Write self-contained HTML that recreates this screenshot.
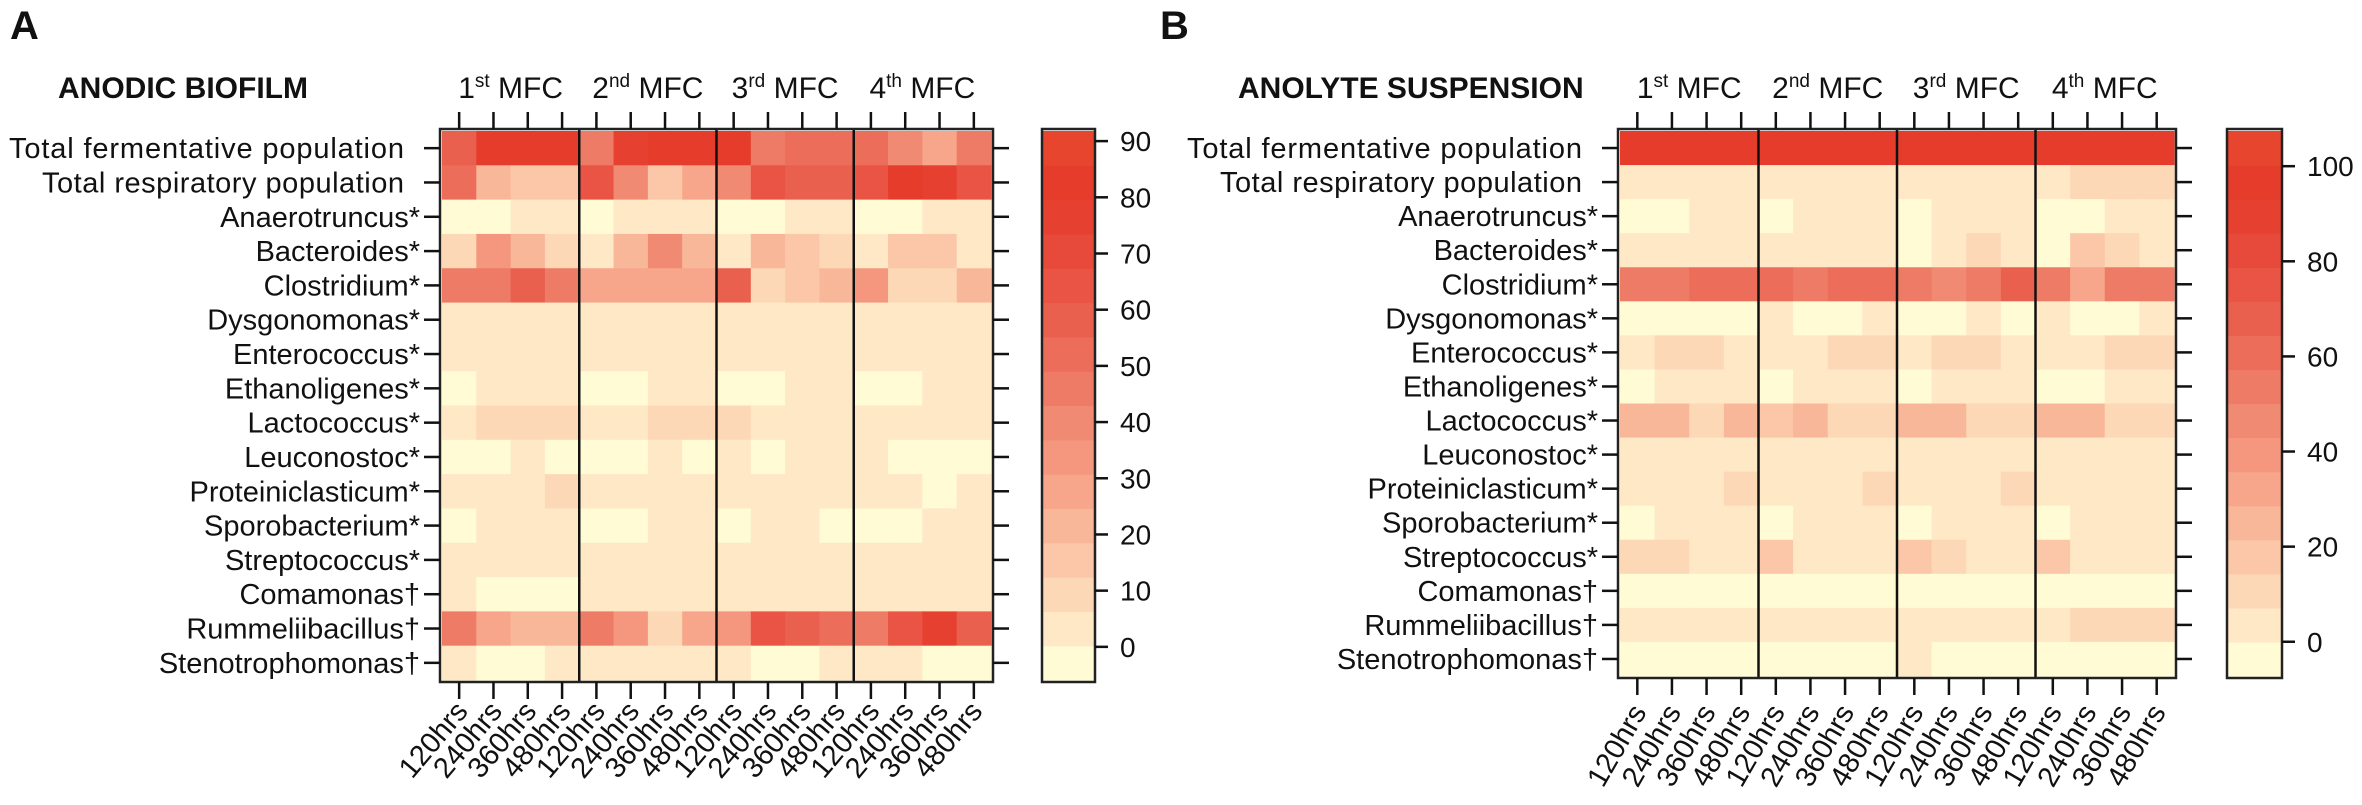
<!DOCTYPE html>
<html><head><meta charset="utf-8"><style>
html,body{margin:0;padding:0;background:#fff;}
svg{display:block;font-family:"Liberation Sans",Arial,sans-serif;}
</style></head><body>
<svg id="fig" width="2362" height="805" viewBox="0 0 2362 805" xmlns="http://www.w3.org/2000/svg"></svg>
<script>
const taxa = ["Total fermentative population","Total respiratory population","Anaerotruncus*","Bacteroides*","Clostridium*","Dysgonomonas*","Enterococcus*","Ethanoligenes*","Lactococcus*","Leuconostoc*","Proteiniclasticum*","Sporobacterium*","Streptococcus*","Comamonas†","Rummeliibacillus†","Stenotrophomonas†"];
const timepoints = ["120hrs","240hrs","360hrs","480hrs"];
const reactors = ["1","2","3","4"];
const reactorSup = ["st","nd","rd","th"];
const palette = ["#FFFBD4","#FEE8C6","#FDD8B6","#FBC7A8","#F9B79A","#F7A68B","#F4977E","#F18A73","#EE7B66","#EC6E5A","#EA604E","#E95445","#E7493A","#E64030","#E63C2C","#E7452E"];
// Anodic biofilm values (%)
const biofilmValues = [
 [58,82,82,82, 46,76,82,82, 82,46,52,52, 52,37,30,46],
 [52,21,15,15, 64,40,15,27, 40,64,58,58, 64,82,76,64],
 [-2,-2,3,3, -2,3,3,3, -2,-2,3,3, -2,-2,3,3],
 [9,33,21,9, 3,21,40,21, 3,21,15,9, 3,15,15,3],
 [46,46,58,46, 27,27,27,27, 58,9,15,21, 33,9,9,21],
 [3,3,3,3, 3,3,3,3, 3,3,3,3, 3,3,3,3],
 [3,3,3,3, 3,3,3,3, 3,3,3,3, 3,3,3,3],
 [-2,3,3,3, -2,-2,3,3, -2,-2,3,3, -2,-2,3,3],
 [3,9,9,9, 3,3,9,9, 9,3,3,3, 3,3,3,3],
 [-2,-2,3,-2, -2,-2,3,-2, 3,-2,3,3, 3,-2,-2,-2],
 [3,3,3,9, 3,3,3,3, 3,3,3,3, 3,3,-2,3],
 [-2,3,3,3, -2,-2,3,3, -2,3,3,-2, -2,-2,3,3],
 [3,3,3,3, 3,3,3,3, 3,3,3,3, 3,3,3,3],
 [3,-2,-2,-2, 3,3,3,3, 3,3,3,3, 3,3,3,3],
 [46,27,21,21, 46,33,9,27, 33,64,58,52, 46,64,76,58],
 [3,-2,-2,3, 3,3,3,3, 3,-2,-2,3, 3,3,-2,-2]
];
// Anolyte suspension values (%)
const suspensionValues = [
 [96,96,96,96, 96,96,96,96, 96,96,96,96, 96,96,96,96],
 [3,3,3,3, 3,3,3,3, 3,3,3,3, 3,10,10,10],
 [-2,-2,3,3, -2,3,3,3, -2,3,3,3, -2,-2,3,3],
 [3,3,3,3, 3,3,3,3, -2,3,10,3, -2,18,10,3],
 [53,53,60,60, 60,53,60,60, 53,46,53,68, 53,32,53,53],
 [-2,-2,-2,-2, 3,-2,-2,3, -2,-2,3,-2, 3,-2,-2,3],
 [3,10,10,3, 3,3,10,10, 3,10,10,3, 3,3,10,10],
 [-2,3,3,3, -2,3,3,3, -2,3,3,3, -2,-2,3,3],
 [25,25,10,25, 18,25,10,10, 25,25,10,10, 25,25,10,10],
 [3,3,3,3, 3,3,3,3, 3,3,3,3, 3,3,3,3],
 [3,3,3,10, 3,3,3,10, 3,3,3,10, 3,3,3,3],
 [-2,3,3,3, -2,3,3,3, -2,3,3,3, -2,3,3,3],
 [10,10,3,3, 18,3,3,3, 18,10,3,3, 18,3,3,3],
 [-2,-2,-2,-2, -2,-2,-2,-2, -2,-2,-2,-2, -2,-2,-2,-2],
 [3,3,3,3, 3,3,3,3, 3,3,3,3, 3,10,10,10],
 [-2,-2,-2,-2, -2,-2,-2,-2, 3,-2,-2,-2, -2,-2,-2,-2]
];
const biofilmTicks = [0,10,20,30,40,50,60,70,80,90];
const suspensionTicks = [0,20,40,60,80,100];

const NS = "http://www.w3.org/2000/svg";
const svg = document.getElementById("fig");
function mk(tag, attrs, parent){
  const e = document.createElementNS(NS, tag);
  for (const k in attrs) e.setAttribute(k, attrs[k]);
  (parent||svg).appendChild(e);
  return e;
}

function panel(cfg){
  const g = mk("g", {});
  
  
  const nR = taxa.length, nC = reactors.length*timepoints.length;
  const cw = (cfg.x1-cfg.x0)/nC, rh = (cfg.y1-cfg.y0)/nR;
  const xC = c => cfg.x0 + c*cw;
  const yR = r => cfg.y0 + r*rh;
  const bw = (cfg.vmax-cfg.vmin)/palette.length;
  const colorOf = v => palette[Math.max(0,Math.min(palette.length-1,Math.floor((v-cfg.vmin)/bw)))];
  const L = mk("text",{x:cfg.letterX,y:39,"font-size":40,"font-weight":"bold",fill:"#111"},g);
  L.textContent = cfg.letter;
  
  
  const T = mk("text",{x:cfg.titleX,y:98,"font-size":30,"font-weight":"bold",fill:"#111"},g);
  T.textContent = cfg.title;
  
  
  for (let r=0;r<nR;r++) for (let c=0;c<nC;c++){
    const rc = mk("rect",{x:xC(c),y:yR(r),width:cw+0.6,height:rh+0.6,fill:colorOf(cfg.values[r][c])},g);
    
    
  }
  for (let k=1;k<reactors.length;k++){
    const x = xC(k*timepoints.length);
    const ln = mk("line",{x1:x,x2:x,y1:cfg.y0-2,y2:cfg.y1+2,stroke:"#111","stroke-width":2.5},g);
    
    
  }
  const fr = mk("rect",{x:cfg.x0-2,y:cfg.y0-2,width:cfg.x1-cfg.x0+4,height:cfg.y1-cfg.y0+4,fill:"none",stroke:"#222","stroke-width":2.5},g);
  
  
  for (let r=0;r<nR;r++){
    const y = yR(r)+rh/2;
    mk("line",{x1:cfg.x0-18,x2:cfg.x0-2,y1:y,y2:y,stroke:"#111","stroke-width":2.5},g);
    mk("line",{x1:cfg.x1+2,x2:cfg.x1+18,y1:y,y2:y,stroke:"#111","stroke-width":2.5},g);
    const attrs = {x:cfg.x0-22,y:y+10,"font-size":29,"text-anchor":"end",fill:"#111"};
    if (r<2){ attrs.x = cfg.x0-38; }
    const t = mk("text",attrs,g);
    if (r<2){ t.setAttribute("textLength", r==0?395:362); t.setAttribute("lengthAdjust","spacing"); }
    t.textContent = taxa[r];
    
    
  }
  for (let c=0;c<nC;c++){
    const x = xC(c)+cw/2;
    mk("line",{x1:x,x2:x,y1:cfg.y0-19,y2:cfg.y0-2,stroke:"#111","stroke-width":2.5},g);
    mk("line",{x1:x,x2:x,y1:cfg.y1+2,y2:cfg.y1+19,stroke:"#111","stroke-width":2.5},g);
    const lx = x+10, ly = 712;
    const t = mk("text",{x:lx,y:ly,"font-size":29,"text-anchor":"end",fill:"#111",transform:`rotate(${cfg.rot} ${lx} ${ly})`},g);
    t.textContent = timepoints[c%timepoints.length];
    
    
  }
  for (let k=0;k<reactors.length;k++){
    const cx = xC(k*timepoints.length + timepoints.length/2);
    const t = mk("text",{x:cx,y:98,"font-size":30,"text-anchor":"middle",fill:"#111"},g);
    const a = mk("tspan",{},t); a.textContent = reactors[k];
    const s = mk("tspan",{"font-size":19,dy:-11},t); s.textContent = reactorSup[k];
    const b = mk("tspan",{dy:11},t); b.textContent = " MFC";
    
    
  }
  const cb = mk("g",{},g);
  
  
  const segH = (cfg.y1-cfg.y0)/palette.length;
  for (let i=0;i<palette.length;i++){
    mk("rect",{x:cfg.cbX0,y:cfg.y1-(i+1)*segH,width:cfg.cbX1-cfg.cbX0,height:segH+0.6,fill:palette[i]},cb);
  }
  mk("rect",{x:cfg.cbX0-1,y:cfg.y0-2,width:cfg.cbX1-cfg.cbX0+2,height:cfg.y1-cfg.y0+4,fill:"none",stroke:"#222","stroke-width":2.5},cb);
  const vy = v => cfg.y1 - (v-cfg.vmin)/(cfg.vmax-cfg.vmin)*(cfg.y1-cfg.y0);
  cfg.ticks.forEach(v=>{
    const y = vy(v);
    mk("line",{x1:cfg.cbX1+1,x2:cfg.cbX1+14,y1:y,y2:y,stroke:"#111","stroke-width":2.5},cb);
    const t = mk("text",{x:cfg.cbX1+26,y:y+10,"font-size":28,fill:"#111"},cb);
    t.textContent = v;
    
    
  });
}

panel({name:"anodic-biofilm-panel",letter:"A",letterX:10,title:"ANODIC BIOFILM",titleX:58,
  x0:442,x1:991,y0:131,y1:680,values:biofilmValues,vmin:-5.9,vmax:91.8,
  cbX0:1043,cbX1:1094,ticks:biofilmTicks,rot:-50});
panel({name:"anolyte-suspension-panel",letter:"B",letterX:1160,title:"ANOLYTE SUSPENSION",titleX:1238,
  x0:1620,x1:2174,y0:131,y1:676,values:suspensionValues,vmin:-7.2,vmax:107.4,
  cbX0:2228,cbX1:2281,ticks:suspensionTicks,rot:-60});
</script>
</body></html>
